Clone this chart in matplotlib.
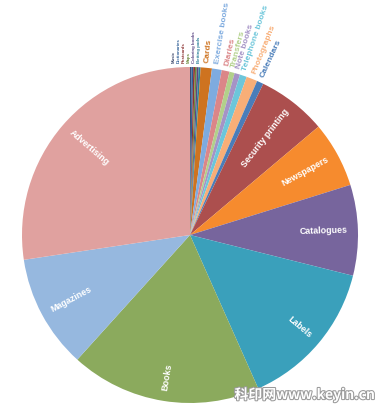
import numpy as np
import matplotlib.pyplot as plt
import matplotlib.patheffects as pe

## slice data (share of print market, %), clockwise from 12 o'clock
segments = ['Music', 'Dictionaries', 'Postcards', 'Maps', 'Coloring books',
            'Betting pads', 'Cards', 'Exercise books', 'Diaries', 'Transfers',
            'Note books', 'Telephone books', 'Photographs', 'Calendars',
            'Security printing', 'Newspapers', 'Catalogues', 'Labels',
            'Books', 'Magazines', 'Advertising']
shares = [0.14, 0.17, 0.17, 0.17, 0.17,
          0.19, 1.08, 0.94, 0.75, 0.50,
          0.53, 0.67, 1.06, 0.64,
          6.67, 6.33, 8.72, 14.44,
          18.36, 10.94, 27.36]
colors = ['#3f4a6e', '#2f5e96', '#8d3332', '#6e8a3c', '#5b4683',
          '#2b8199', '#ce7320', '#7eabdf', '#db8688', '#b2d08a',
          '#a593c6', '#6dc6da', '#f8ae77', '#4a7db9',
          '#ac4f4e', '#f68b2e', '#77659d', '#3aa0bb',
          '#8baa5d', '#96b8df', '#e0a19f']
n_small = 14          # first 14 slices get labels outside the pie
n_tiny = 6            # of which these get the tiny font, fanned out

plt.rcParams['font.family'] = ['Liberation Sans', 'DejaVu Sans']

fig = plt.figure(figsize=(3.83, 4.11), dpi=100)
R = 168
ax = fig.add_axes([(190 - R) / 383, (176 - R) / 411, 2 * R / 383, 2 * R / 411])
wedges, _ = ax.pie(shares, colors=colors, startangle=90, counterclock=False,
                   radius=1, wedgeprops=dict(linewidth=0))
ax.set_xlim(-1, 1)
ax.set_ylim(-1, 1)
ax.axis('off')

for i, w in enumerate(wedges):
    th = np.deg2rad((w.theta1 + w.theta2) / 2)
    x, y = np.cos(th), np.sin(th)
    rot = np.rad2deg(th)
    right = x >= 0
    if not right:
        rot += 180
    if i < n_tiny:
        # tiny slices: labels fanned out side by side above the rim
        ax.text(-0.095 + i * 0.03, 1.025, segments[i], color=colors[i],
                fontsize=3.2, fontweight='bold', rotation=90,
                rotation_mode='anchor', ha='left', va='center', clip_on=False)
    elif i < n_small:
        # outside label, reads outward from the rim
        r = 1.03
        ax.text(r * x, r * y, segments[i], color=colors[i], fontsize=6,
                fontweight='bold', rotation=rot, rotation_mode='anchor',
                ha='left', va='center', clip_on=False)
    else:
        # inside label, outer end near the rim
        r = 0.94
        ax.text(r * x, r * y, segments[i], color='white', fontsize=6.4,
                fontweight='bold', rotation=rot, rotation_mode='anchor',
                ha='right' if right else 'left', va='center')

# watermark
fig.text(0.98, 0.04, '科印网www.keyin.cn', ha='right', va='center',
         fontsize=10, fontweight='bold', color='white',
         family=['Noto Sans CJK SC', 'DejaVu Sans'],
         path_effects=[pe.withStroke(linewidth=1.5, foreground='#9a9a9a')])

fig.savefig('out.png', dpi=100)
